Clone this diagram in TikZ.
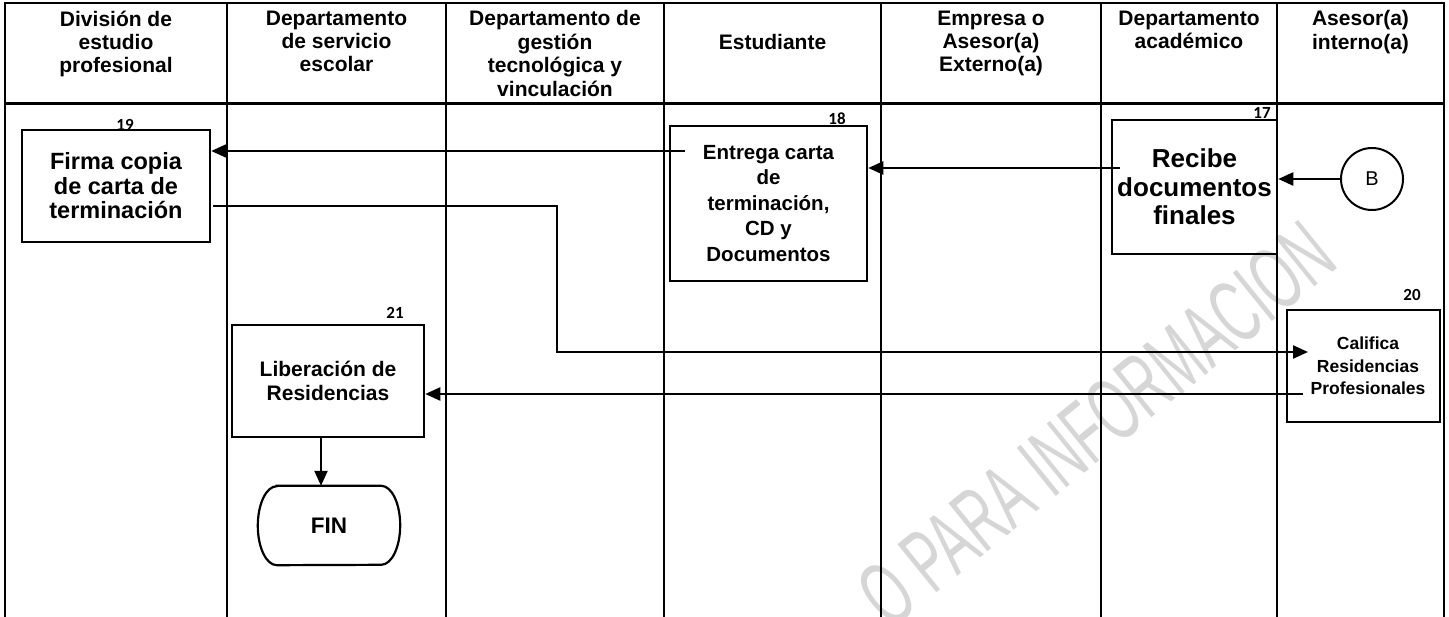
\documentclass[tikz,border=0pt]{standalone}
\usepackage{fontspec}
\setmainfont{Liberation Sans}
\newfontfamily\numfont{Carlito}
\newfontfamily\wmfont{Liberation Sans}[FakeStretch=0.58]
\usetikzlibrary{arrows.meta}
\begin{document}
\begin{tikzpicture}[x=1pt,y=-1pt,
  grid/.style={line width=2pt},
  hdr/.style={align=center, anchor=north, inner sep=0pt, font=\bfseries\fontsize{21}{23.4}\selectfont},
  box/.style={draw, line width=2.5pt, align=center, inner sep=0pt},
  num/.style={inner sep=0pt, font=\numfont\bfseries\fontsize{17}{17}\selectfont},
  arr/.style={line width=2.3pt, -{Triangle[length=15pt,width=13pt]}},
  wm/.style={inner sep=0pt, text=black!16, font=\wmfont\fontsize{90}{90}\selectfont, rotate=39}]
\useasboundingbox (0,0) rectangle (1449,617);
\clip (0,0) rectangle (1449,617);
% watermark
\node[wm] (wm) at (1096,424) {O PARA INFORMACION};
% lanes
\draw[grid] (5,617) -- (5,3) -- (1444,3) -- (1444,617);
\draw[line width=2.6pt] (5,103.5) -- (1444,103.5);
\foreach \x in {227,446,664,881,1101,1277} \draw[grid] (\x,3) -- (\x,617);
% headers
\node[hdr] (h1) at (116,10.5) {División de\\estudio\\profesional};
\node[hdr] (h2) at (336.5,10.5) {Departamento\\de servicio\\escolar};
\node[hdr] (h3) at (555,10.5) {Departamento de\\gestión\\tecnológica y\\vinculación};
\node[hdr] (h4) at (772.5,33.9) {Estudiante};
\node[hdr] (h5) at (991,10.5) {Empresa o\\Asesor(a)\\Externo(a)};
\node[hdr] (h6) at (1189,10.5) {Departamento\\académico};
\node[hdr] (h7) at (1360.5,10.5) {Asesor(a)\\interno(a)};
% boxes
\node[box, minimum width=188pt, minimum height=112pt, font=\bfseries\fontsize{23.5}{24.5}\selectfont] (n19) at (116,186) {Firma copia\\de carta de\\terminación};
\node[box, minimum width=197pt, minimum height=155pt, font=\bfseries\fontsize{20.5}{25.5}\selectfont] (n18) at (768.5,203.5) {Entrega carta\\de\\terminación,\\CD y\\Documentos};
\node[box, minimum width=165pt, minimum height=134pt, font=\bfseries\fontsize{26}{28.5}\selectfont] (n17) at (1194.5,187) {Recibe\\documentos\\finales};
\node[box, minimum width=153pt, minimum height=112pt, font=\bfseries\fontsize{17.5}{22.5}\selectfont] (n20) at (1363.5,366) {\hspace*{9pt}Califica\\\hspace*{9pt}Residencias\\\hspace*{9pt}Profesionales};
\node[box, minimum width=192pt, minimum height=112pt, font=\bfseries\fontsize{21}{24}\selectfont] (n21) at (328,381) {Liberación de\\Residencias};
\node[draw, circle, line width=2pt, minimum size=62pt, inner sep=0pt, font=\fontsize{20}{20}\selectfont] (B) at (1372,179) {B};
\node[minimum width=142pt, minimum height=79pt, inner sep=0pt, font=\bfseries\fontsize{22.5}{22.5}\selectfont] (fin) at (329,525.5) {FIN};
\draw[line width=2.2pt] ([xshift=19pt]fin.north west) -- ([xshift=-19pt]fin.north east)
  arc[start angle=90, end angle=-90, x radius=19pt, y radius=39.5pt]
  -- ([xshift=19pt]fin.south west)
  arc[start angle=270, end angle=90, x radius=19pt, y radius=39.5pt] -- cycle;
% numbers
\node[num] (l19) at (125,125) {19};
\node[num] (l18) at (837,119) {18};
\node[num] (l17) at (1262,113) {17};
\node[num] (l20) at (1412,295) {20};
\node[num] (l21) at (395,313) {21};
% connectors
\coordinate (s18) at (685,151);
\coordinate (s17) at (1120,168);
\coordinate (o19) at (213,206);
\coordinate (j19) at (557,352);
\coordinate (t20) at (1308,352);
\coordinate (s20) at (1303,394);
\draw[arr] (s18) -- (n19.east |- s18);
\draw[arr] (s17) -- (n18.east |- s17);
\draw[arr] (B.west) -- (n17.east |- B.west);
\draw[arr] (o19) -| (j19) -- (t20);
\draw[arr] (s20) -- (n21.east |- s20);
\draw[arr] ([xshift=-7pt]n21.south) -- ([xshift=-8pt]fin.north);
\end{tikzpicture}
\end{document}
